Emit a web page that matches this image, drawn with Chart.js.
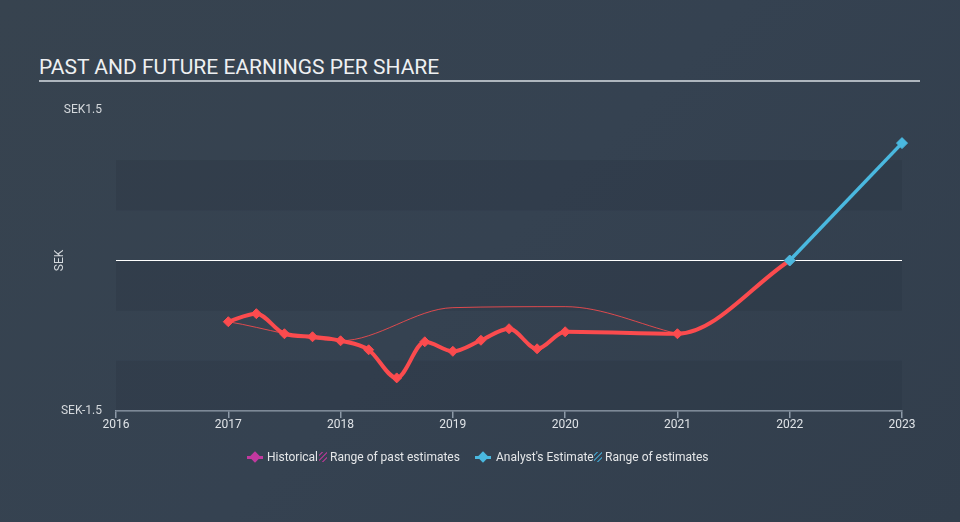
<!DOCTYPE html>
<html><head><meta charset="utf-8">
<script src="https://cdn.jsdelivr.net/npm/chart.js@4"></script>
<style>
html,body{margin:0;padding:0;}
body{width:960px;height:522px;overflow:hidden;background:linear-gradient(135deg,#37434f 0%,#354251 50%,#323e4c 100%);font-family:Roboto,"Noto Sans",sans-serif;position:relative;}
#title{position:absolute;left:39px;top:55px;font-size:21px;color:#eef0f2;white-space:nowrap;}
#rule{position:absolute;left:39px;top:80px;width:881px;height:2px;background:#aeb6be;}
canvas{position:absolute;left:0;top:0;}
#legend{position:absolute;top:449px;left:0;width:960px;height:18px;font-size:12px;color:#e4e6e8;}
.li{position:absolute;top:0;line-height:16px;white-space:nowrap;}
.mk{position:absolute;top:0;width:16px;height:16px;}
.mk .ln{position:absolute;left:0;top:7px;width:16px;height:3px;}
.mk .dm{position:absolute;left:4px;top:4px;width:8px;height:8px;transform:rotate(45deg);}
.hatch{position:absolute;top:3px;width:8px;height:10px;}
</style></head>
<body>
<div id="title">PAST AND FUTURE EARNINGS PER SHARE</div>
<div id="rule"></div>
<canvas id="c" width="960" height="522"></canvas>
<div id="legend">
  <div class="mk" style="left:247px"><div class="ln" style="background:#c2399f"></div><div class="dm" style="background:#c2399f"></div></div>
  <div class="li" style="left:267px">Historical</div>
  <div class="hatch" style="left:319px;background:repeating-linear-gradient(135deg,transparent 0 2px,#9a3a86 2px 3.5px)"></div>
  <div class="li" style="left:330px">Range of past estimates</div>
  <div class="mk" style="left:475px"><div class="ln" style="background:#4ab8df"></div><div class="dm" style="background:#4ab8df"></div></div>
  <div class="li" style="left:496px">Analyst's Estimate</div>
  <div class="hatch" style="left:594px;background:repeating-linear-gradient(135deg,transparent 0 2px,#3f8db0 2px 3.5px)"></div>
  <div class="li" style="left:605px">Range of estimates</div>
</div>
<script>
// ---- data ----
const histYears = [2017, 2017.25, 2017.5, 2017.75, 2018, 2018.25, 2018.5, 2018.75, 2019, 2019.25, 2019.5, 2019.75, 2020, 2021, 2022];
const histEPS   = [-0.61, -0.53, -0.73, -0.76, -0.80, -0.89, -1.17, -0.81, -0.905, -0.795, -0.68, -0.88, -0.71, -0.73, 0.0];
const pastRangeYears = [2017, 2018, 2019, 2020, 2021];
const pastRangeEPS   = [-0.61, -0.80, -0.47, -0.46, -0.73];
const estYears = [2022, 2023];
const estEPS   = [0.0, 1.17];
const xTickValues = [2016, 2017, 2018, 2019, 2020, 2021, 2022, 2023];
const xTickLabels = ['2016', '2017', '2018', '2019', '2020', '2021', '2022', '2023'];
const yTickValues = [-1.5, 0, 1.5];
const yTickLabels = ['SEK-1.5', '', 'SEK1.5'];
const bandRanges = [[0.5, 1.0], [-0.5, 0], [-1.5, -1.0]];

const RED = '#fb4b4e', BLUE = '#4ab8df';
const toPts = (xs, ys) => xs.map((x, i) => ({x: x, y: ys[i]}));

const bandPlugin = {
  id: 'bands',
  beforeDatasetsDraw(chart) {
    const {ctx, chartArea, scales: {y}} = chart;
    ctx.save();
    ctx.fillStyle = 'rgba(25,35,48,0.14)';
    bandRanges.forEach(([a, b]) => {
      const y1 = y.getPixelForValue(b), y2 = y.getPixelForValue(a);
      ctx.fillRect(chartArea.left, y1, chartArea.right - chartArea.left, y2 - y1);
    });
    const y0 = y.getPixelForValue(0);
    ctx.strokeStyle = '#ffffff'; ctx.lineWidth = 1;
    ctx.beginPath(); ctx.moveTo(chartArea.left, Math.round(y0) - 0.5); ctx.lineTo(chartArea.right, Math.round(y0) - 0.5); ctx.stroke();
    ctx.restore();
  }
};

new Chart(document.getElementById('c'), {
  type: 'line',
  data: {
    datasets: [
      { label: "Analyst's Estimate", order: 0, data: toPts(estYears, estEPS), borderColor: BLUE, backgroundColor: BLUE, borderWidth: 3.5, pointStyle: 'rectRot', pointRadius: 5.5, pointBorderWidth: 1, pointBorderColor: BLUE, pointBackgroundColor: BLUE, fill: false, clip: false },
      { label: 'Historical', order: 1, data: toPts(histYears, histEPS), borderColor: RED, backgroundColor: RED, borderWidth: 4, pointStyle: 'rectRot', pointRadius: 5, pointBorderWidth: 1, pointBorderColor: RED, pointBackgroundColor: RED, cubicInterpolationMode: 'monotone', fill: false, clip: false },
      { label: 'Range of past estimates', order: 2, data: toPts(pastRangeYears, pastRangeEPS), borderColor: 'rgba(251,75,78,0.85)', borderWidth: 1, pointRadius: 0, cubicInterpolationMode: 'monotone', fill: false, clip: false }
    ]
  },
  options: {
    responsive: false, animation: false, devicePixelRatio: 1,
    layout: { padding: { left: 0, right: 58, top: 110, bottom: 81 } },
    plugins: { legend: { display: false }, tooltip: { enabled: false } },
    scales: {
      x: {
        type: 'linear', min: 2016, max: 2023,
        afterBuildTicks: s => { s.ticks = xTickValues.map(v => ({value: v})); },
        afterFit: s => { s.height = 30; },
        ticks: { callback: (v) => xTickLabels[xTickValues.indexOf(v)], color: '#dfe3e7', font: { family: 'Roboto', size: 12 }, padding: 0, maxRotation: 0, autoSkip: false },
        grid: { drawOnChartArea: false, drawTicks: true, tickLength: 7, color: '#8d9aa8', lineWidth: 1.5 },
        border: { display: true, color: '#8d9aa8', width: 1.5 }
      },
      y: {
        type: 'linear', min: -1.5, max: 1.5,
        afterBuildTicks: s => { s.ticks = yTickValues.map(v => ({value: v})); },
        afterFit: s => { s.width = 116; },
        ticks: { callback: (v) => yTickLabels[yTickValues.indexOf(v)], color: '#d4d8dc', font: { family: 'Roboto', size: 12 }, padding: 14 },
        grid: { display: false, drawTicks: false },
        border: { display: false },
        title: { display: true, text: 'SEK', color: '#d4d8dc', font: { family: 'Roboto', size: 12 }, padding: { top: 53, bottom: 0 } }
      }
    }
  },
  plugins: [bandPlugin]
});
</script>
</body></html>
